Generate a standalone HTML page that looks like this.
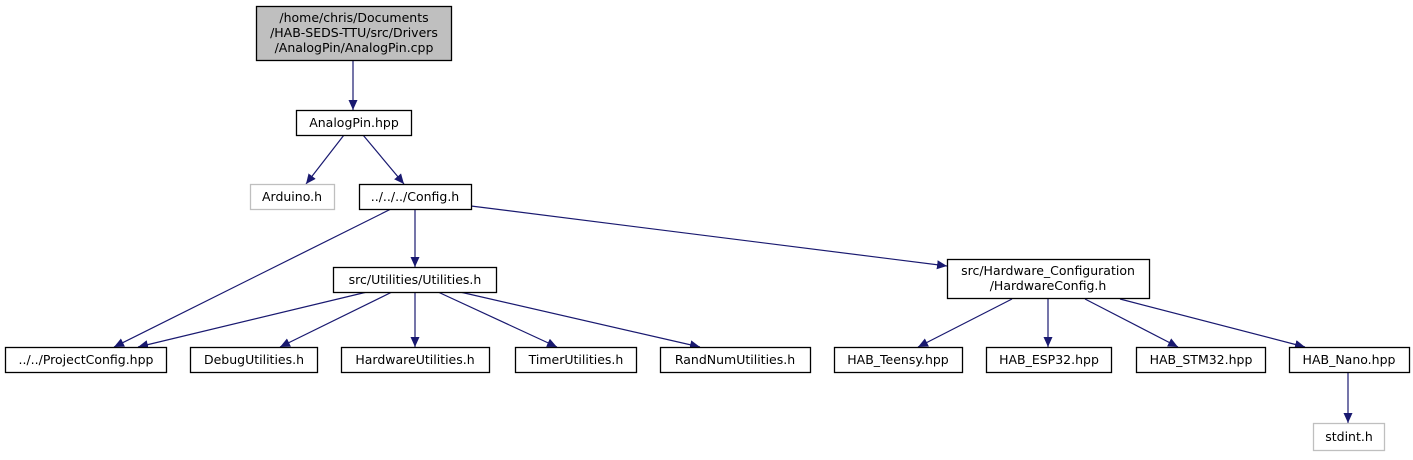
<!DOCTYPE html>
<html><head><meta charset="utf-8"><style>
html,body{margin:0;padding:0;background:#fff;}
svg text{font-family:"DejaVu Sans","Liberation Sans",sans-serif;font-size:12.5px;fill:#000;}
</style></head><body>
<svg width="1413" height="455" viewBox="0 0 1413 455" xmlns="http://www.w3.org/2000/svg">
<defs>
<marker id="a" markerUnits="userSpaceOnUse" markerWidth="11" markerHeight="10" refX="10" refY="5" orient="auto">
<path d="M0,0.5 L10,5 L0,9.5 z" fill="#191970"/>
</marker>
</defs>
<g stroke="#191970" stroke-width="1.2" fill="none" marker-end="url(#a)">
<line x1="353" y1="61" x2="353" y2="110"/>
<line x1="344" y1="135" x2="306" y2="184"/>
<line x1="363" y1="135" x2="404" y2="184"/>
<line x1="391" y1="209" x2="114" y2="347"/>
<line x1="415" y1="209" x2="415" y2="267"/>
<line x1="471" y1="206" x2="947" y2="266"/>
<line x1="367" y1="292" x2="138" y2="347"/>
<line x1="392" y1="292" x2="280" y2="347"/>
<line x1="415" y1="292" x2="415" y2="347"/>
<line x1="438" y1="292" x2="557" y2="347"/>
<line x1="460" y1="292" x2="700" y2="347"/>
<line x1="1012" y1="299" x2="918" y2="347"/>
<line x1="1048" y1="299" x2="1048" y2="347"/>
<line x1="1085" y1="299" x2="1178" y2="347"/>
<line x1="1120" y1="299" x2="1305" y2="347"/>
<line x1="1348" y1="373" x2="1348" y2="423"/>
</g>
<g stroke-width="1.3">
<rect x="256.5" y="6.5" width="195" height="54" fill="#bfbfbf" stroke="#000"/>
<rect x="296.5" y="110.5" width="115" height="25" fill="#fff" stroke="#000"/>
<rect x="250.5" y="184.5" width="84" height="25" fill="#fff" stroke="#bfbfbf"/>
<rect x="359.5" y="184.5" width="112" height="25" fill="#fff" stroke="#000"/>
<rect x="333.5" y="267.5" width="163" height="25" fill="#fff" stroke="#000"/>
<rect x="947.5" y="259.5" width="202" height="39" fill="#fff" stroke="#000"/>
<rect x="5.5" y="347.5" width="161" height="25" fill="#fff" stroke="#000"/>
<rect x="190.5" y="347.5" width="127" height="25" fill="#fff" stroke="#000"/>
<rect x="341.5" y="347.5" width="148" height="25" fill="#fff" stroke="#000"/>
<rect x="515.5" y="347.5" width="121" height="25" fill="#fff" stroke="#000"/>
<rect x="660.5" y="347.5" width="150" height="25" fill="#fff" stroke="#000"/>
<rect x="834.5" y="347.5" width="128" height="25" fill="#fff" stroke="#000"/>
<rect x="986.5" y="347.5" width="125" height="25" fill="#fff" stroke="#000"/>
<rect x="1136.5" y="347.5" width="129" height="25" fill="#fff" stroke="#000"/>
<rect x="1289.5" y="347.5" width="120" height="25" fill="#fff" stroke="#000"/>
<rect x="1313.5" y="423.5" width="71" height="27" fill="#fff" stroke="#bfbfbf"/>
</g>
<g text-anchor="middle">
<text x="354" y="22">/home/chris/Documents</text>
<text x="354" y="37">/HAB-SEDS-TTU/src/Drivers</text>
<text x="354" y="52">/AnalogPin/AnalogPin.cpp</text>
<text x="354" y="127">AnalogPin.hpp</text>
<text x="292" y="201">Arduino.h</text>
<text x="415" y="201">../../../Config.h</text>
<text x="415" y="284">src/Utilities/Utilities.h</text>
<text x="1048" y="275">src/Hardware_Configuration</text>
<text x="1048" y="290">/HardwareConfig.h</text>
<text x="86" y="364">../../ProjectConfig.hpp</text>
<text x="254" y="364">DebugUtilities.h</text>
<text x="415" y="364">HardwareUtilities.h</text>
<text x="576" y="364">TimerUtilities.h</text>
<text x="735" y="364">RandNumUtilities.h</text>
<text x="898" y="364">HAB_Teensy.hpp</text>
<text x="1049" y="364">HAB_ESP32.hpp</text>
<text x="1201" y="364">HAB_STM32.hpp</text>
<text x="1349" y="364">HAB_Nano.hpp</text>
<text x="1349" y="441">stdint.h</text>
</g>
</svg>
</body></html>
